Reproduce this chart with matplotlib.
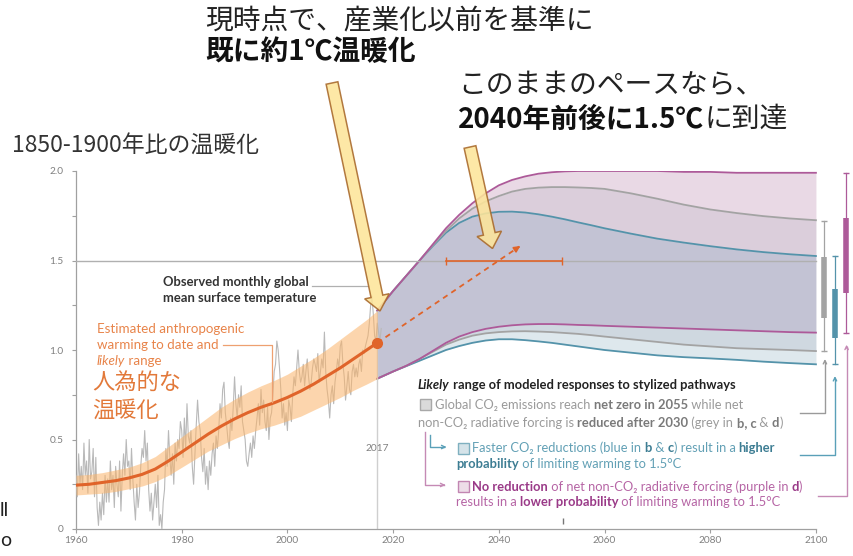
import numpy as np
import matplotlib
matplotlib.use('Agg')
import matplotlib.pyplot as plt
from matplotlib.patches import FancyArrow, Rectangle
from matplotlib.transforms import Affine2D

W, H = 854, 556

# observed monthly GMST (read off roughly, 4 values per year 1960-2017)
obs_vals = [
    0.30, 0.18, 0.42, 0.25, 0.35, 0.22, 0.48, 0.30, 0.38, 0.20, 0.50, 0.28,
    0.32, 0.45, 0.18, 0.40, 0.12, 0.02, 0.15, 0.05, 0.20, 0.08, 0.30, 0.15,
    0.28, 0.15, 0.38, 0.22, 0.30, 0.12, 0.35, 0.25, 0.18, 0.38, 0.10, 0.30,
    0.42, 0.30, 0.50, 0.35, 0.38, 0.22, 0.45, 0.28, 0.15, 0.05, 0.25, 0.12,
    0.20, 0.35, 0.45, 0.40, 0.55, 0.38, 0.48, 0.22, 0.10, 0.20, 0.05, 0.15,
    0.25, 0.12, 0.30, 0.02, 0.08, 0.00, 0.15, 0.22, 0.45, 0.35, 0.55, 0.40,
    0.30, 0.42, 0.25, 0.48, 0.38, 0.50, 0.45, 0.60, 0.55, 0.40, 0.62, 0.45,
    0.70, 0.52, 0.48, 0.55, 0.35, 0.25, 0.42, 0.58, 0.72, 0.60, 0.55, 0.40,
    0.32, 0.45, 0.25, 0.35, 0.22, 0.38, 0.30, 0.42, 0.48, 0.35, 0.52, 0.45,
    0.55, 0.70, 0.62, 0.78, 0.82, 0.65, 0.58, 0.50, 0.45, 0.62, 0.55, 0.68,
    0.85, 0.70, 0.62, 0.75, 0.68, 0.80, 0.60, 0.55, 0.50, 0.38, 0.35, 0.42,
    0.48, 0.40, 0.52, 0.45, 0.55, 0.62, 0.70, 0.58, 0.78, 0.65, 0.72, 0.60,
    0.55, 0.68, 0.50, 0.62, 0.65, 0.75, 0.88, 0.92, 1.05, 1.00, 0.90, 0.78,
    0.62, 0.70, 0.58, 0.65, 0.55, 0.72, 0.68, 0.60, 0.75, 0.85, 0.80, 0.90,
    1.00, 0.88, 0.82, 0.85, 0.92, 0.80, 0.88, 0.95, 0.85, 0.78, 0.82, 0.90,
    0.95, 0.92, 0.88, 0.98, 0.82, 0.88, 0.95, 0.90, 1.10, 0.88, 0.78, 0.72,
    0.62, 0.75, 0.80, 0.70, 0.82, 0.88, 0.95, 0.90, 1.02, 1.05, 0.92, 0.85,
    0.72, 0.80, 0.88, 0.78, 0.75, 0.88, 0.92, 0.85, 0.90, 0.85, 0.92, 0.95,
    0.88, 1.00, 0.98, 1.02, 1.05, 1.08, 1.15, 1.25, 1.30, 1.20, 1.08, 1.05,
    1.15, 1.10, 1.05, 1.12,
]
obs_years = 1960 + np.arange(len(obs_vals)) / 4

# anthropogenic warming estimate and likely range
ant_years = [1960, 1962.5, 1965, 1967.5, 1970, 1972.5, 1975, 1977.5, 1980, 1982.5,
             1985, 1987.5, 1990, 1992.5, 1995, 1997.5, 2000, 2002.5, 2005, 2007.5,
             2010, 2012.5, 2015, 2017]
ant_mid = [0.245, 0.25, 0.26, 0.27, 0.285, 0.305, 0.335, 0.38, 0.43, 0.48,
           0.53, 0.575, 0.615, 0.65, 0.68, 0.705, 0.735, 0.77, 0.81, 0.855,
           0.90, 0.95, 1.00, 1.04]
ant_lo = [0.19, 0.195, 0.20, 0.21, 0.225, 0.24, 0.265, 0.30, 0.345, 0.39,
          0.435, 0.47, 0.505, 0.535, 0.56, 0.58, 0.605, 0.63, 0.665, 0.70,
          0.735, 0.775, 0.81, 0.84]
ant_hi = [0.30, 0.305, 0.315, 0.33, 0.345, 0.37, 0.405, 0.46, 0.515, 0.57,
          0.625, 0.68, 0.725, 0.765, 0.80, 0.83, 0.865, 0.91, 0.955, 1.005,
          1.06, 1.115, 1.17, 1.22]

# modelled pathways 2017-2100
proj_years = [2017, 2020, 2022.5, 2025, 2027.5, 2030, 2032.5, 2035, 2037.5, 2040,
              2042.5, 2045, 2047.5, 2050, 2052.5, 2055, 2057.5, 2060, 2065, 2070,
              2075, 2080, 2085, 2090, 2095, 2100]
purple_hi = [1.22, 1.33, 1.415, 1.50, 1.59, 1.68, 1.755, 1.82, 1.875, 1.92,
             1.95, 1.97, 1.985, 1.993, 1.998, 2.0, 2.0, 2.0, 2.0, 2.0,
             1.995, 1.995, 1.99, 1.99, 1.99, 1.99]
grey_hi = [1.22, 1.33, 1.415, 1.50, 1.585, 1.665, 1.735, 1.79, 1.83, 1.86,
           1.885, 1.90, 1.907, 1.91, 1.91, 1.908, 1.905, 1.90, 1.875, 1.845,
           1.812, 1.785, 1.765, 1.748, 1.735, 1.725]
blue_hi = [1.22, 1.33, 1.415, 1.50, 1.58, 1.655, 1.71, 1.745, 1.763, 1.772,
           1.773, 1.768, 1.758, 1.745, 1.73, 1.713, 1.697, 1.68, 1.65, 1.622,
           1.60, 1.58, 1.562, 1.547, 1.535, 1.525]
purple_lo = [0.84, 0.88, 0.912, 0.95, 0.995, 1.04, 1.075, 1.10, 1.118, 1.13,
             1.138, 1.143, 1.145, 1.145, 1.143, 1.14, 1.138, 1.135, 1.13, 1.125,
             1.12, 1.115, 1.11, 1.105, 1.10, 1.097]
grey_lo = [0.84, 0.88, 0.912, 0.95, 0.99, 1.03, 1.058, 1.08, 1.093, 1.10,
           1.104, 1.105, 1.103, 1.10, 1.095, 1.09, 1.083, 1.075, 1.06, 1.045,
           1.03, 1.02, 1.01, 1.005, 1.00, 0.994]
blue_lo = [0.84, 0.88, 0.91, 0.94, 0.97, 1.00, 1.022, 1.04, 1.053, 1.06,
           1.06, 1.055, 1.048, 1.04, 1.03, 1.02, 1.01, 1.00, 0.985, 0.97,
           0.96, 0.953, 0.945, 0.935, 0.927, 0.92]

# 2100 ranges: whisker low/high, box low/high
bar_x = [2101.5, 2103.6, 2105.6]
bar_whisk = [(0.994, 1.72), (0.92, 1.525), (1.097, 1.99)]
bar_box = [(1.18, 1.52), (1.065, 1.34), (1.32, 1.735)]

reach_15 = (2030, 2052)
now_year, now_val = 2017, 1.04
pace_to = (2044.5, 1.59)

x_ticks = [1960, 1980, 2000, 2020, 2040, 2060, 2080, 2100]
y_ticks = [0, 0.5, 1.0, 1.5, 2.0]
y_labels = ['0', '0.5', '1.0', '1.5', '2.0']

EN = ['Lato', 'DejaVu Sans']
JP = ['Noto Sans CJK JP', 'DejaVu Sans']
PURPLE, GREY, BLUE = '#ad5a99', '#a3a3a3', '#5493aa'
ORANGE = '#e0642a'

fig = plt.figure(figsize=(W / 100, H / 100), dpi=100)
PX = Affine2D().scale(1, -1).translate(0, H)  # pixel coords, origin top-left
ax = fig.add_axes([76 / W, 27 / H, (W - 76) / W, 358 / H])
ax.set_xlim(1960, 2107.2)
ax.set_ylim(0, 2)

# projections
ax.fill_between(proj_years, grey_hi, purple_hi, color='#e9d9e5', lw=0, zorder=1)
ax.fill_between(proj_years, blue_hi, grey_hi, color='#dbcedb', lw=0, zorder=1)
ax.fill_between(proj_years, purple_lo, blue_hi, color='#c3c3d4', lw=0, zorder=1)
ax.fill_between(proj_years, grey_lo, purple_lo, color='#cfd8e0', lw=0, zorder=1)
ax.fill_between(proj_years, blue_lo, grey_lo, color='#dee8ed', lw=0, zorder=1)
for lo, hi, c in [(blue_lo, blue_hi, BLUE), (grey_lo, grey_hi, GREY), (purple_lo, purple_hi, PURPLE)]:
    ax.plot(proj_years, hi, color=c, lw=1.3, zorder=2)
    ax.plot(proj_years, lo, color=c, lw=1.3, zorder=2)

ax.plot([1960, 2100], [1.5, 1.5], color='#b0b0b0', lw=1, zorder=3)
ax.vlines(2017, 0, 1.22, color='#cfcfcf', lw=1, zorder=2)

# observed + anthropogenic
ax.plot(obs_years, obs_vals, color='#b9b9b9', lw=0.8, zorder=3)
ax.fill_between(ant_years, ant_lo, ant_hi, color='#fbb46a', alpha=0.55, lw=0, zorder=4)
ax.plot(ant_years, ant_mid, color=ORANGE, lw=2.2, zorder=5)
ax.plot([now_year], [now_val], 'o', color=ORANGE, ms=7, zorder=6)
ax.plot([now_year, pace_to[0] - 0.6], [now_val, pace_to[1] - 0.012], color=ORANGE,
        lw=1.3, ls=(0, (3, 2.5)), zorder=6)
ax.annotate('', xy=pace_to, xytext=(pace_to[0] - 1.5, pace_to[1] - 0.03),
            arrowprops=dict(arrowstyle='-|>', color=ORANGE, lw=1.2, mutation_scale=9),
            zorder=6)
ax.plot(reach_15, [1.5, 1.5], color=ORANGE, lw=1.2, marker='|', ms=6, zorder=6)

# 2100 bars
for x, (w0, w1), (b0, b1), c in zip(bar_x, bar_whisk, bar_box, [GREY, BLUE, PURPLE]):
    ax.plot([x, x], [w0, w1], color=c, lw=0.9, marker='_', ms=4, clip_on=False, zorder=6)
    ax.plot([x, x], [b0, b1], color=c, lw=4, solid_capstyle='butt', clip_on=False, zorder=7)

# connectors legend -> bars
conn = [((2097.0, 0.648), 2101.7, 0.965, '#9a9a9a'),
        ((2097.0, 0.413), 2103.6, 0.87, '#5aa0b8'),
        ((2100.4, 0.184), 2105.8, 1.045, '#c58ab5')]
for (x0, y0), xv, ytip, c in conn:
    ax.plot([x0, xv, xv], [y0, y0, ytip - 0.03], color=c, lw=1, clip_on=False, zorder=6)
    ax.annotate('', xy=(xv, ytip), xytext=(xv, ytip - 0.05), annotation_clip=False,
                arrowprops=dict(arrowstyle='->', color=c, lw=1, mutation_scale=6))
ax.plot([2026.0, 2026.0, 2029.6], [0.542, 0.246, 0.246], color='#c58ab5', lw=1, zorder=6)
ax.annotate('', xy=(2030.4, 0.246), xytext=(2029.0, 0.246),
            arrowprops=dict(arrowstyle='->', color='#c58ab5', lw=1, mutation_scale=6))
ax.plot([2027.0, 2027.0, 2029.6], [0.525, 0.458, 0.458], color='#5aa0b8', lw=1, zorder=6)
ax.annotate('', xy=(2030.6, 0.458), xytext=(2029.0, 0.458),
            arrowprops=dict(arrowstyle='->', color='#5aa0b8', lw=1, mutation_scale=6))
ax.vlines(2052.1, 0.03, 0.06, color='#777777', lw=1)

# axes styling
for s in ['top', 'right']:
    ax.spines[s].set_visible(False)
ax.spines['left'].set_bounds(0, 2)
ax.spines['bottom'].set_bounds(1960, 2100)
for s in ['left', 'bottom']:
    ax.spines[s].set_color('#a0a0a0')
    ax.spines[s].set_linewidth(0.9)
ax.set_xticks(x_ticks)
ax.set_xticklabels([str(t) for t in x_ticks])
ax.set_yticks(y_ticks)
ax.set_yticklabels(y_labels)
ax.set_yticks([0.25, 0.75, 1.25, 1.75], minor=True)
ax.tick_params(which='both', length=3, width=0.8, color='#a0a0a0', labelsize=7.3,
               labelcolor='#808080', pad=2)
ax.tick_params(axis='y', which='major', pad=6)
for lab in ax.get_xticklabels() + ax.get_yticklabels():
    lab.set_family(EN)

ax.text(2017, 0.45, '2017', ha='center', va='center', fontsize=7.3, color='#808080',
        family=EN, zorder=8)


def rich(x, y, parts, size, family=EN):
    prev = None
    for s, color, weight, style in parts:
        kw = dict(fontsize=size, color=color, fontweight=weight, fontstyle=style,
                  family=family, zorder=9)
        if prev is None:
            prev = ax.text(x, y, s, transform=PX, ha='left', va='center', **kw)
        else:
            prev = ax.annotate(s, xy=(1, 0), xycoords=prev, ha='left', va='bottom', **kw)
    return prev


# labels in chart
rich(163, 282, [('Observed monthly global', '#333333', 'bold', 'normal')], 9.4)
rich(163, 298, [('mean surface temperature', '#333333', 'bold', 'normal')], 9.4)
ax.plot([312, 368], [286, 286], color='#b0b0b0', lw=0.9, transform=PX, zorder=8)
OR2 = '#e8844a'
rich(97, 329, [('Estimated anthropogenic', OR2, 'normal', 'normal')], 9.6)
rich(97, 345, [('warming to date and', OR2, 'normal', 'normal')], 9.6)
rich(97, 361, [('likely', OR2, 'normal', 'italic'), (' range', OR2, 'normal', 'normal')], 9.6)
ax.plot([223, 272, 272], [345, 345, 402], color='#eea070', lw=0.9, transform=PX, zorder=8)
ax.text(92, 383, '人為的な', transform=PX, ha='left', va='center', fontsize=16,
        color='#e2793a', family=JP, zorder=9)
ax.text(92, 410, '温暖化', transform=PX, ha='left', va='center', fontsize=16,
        color='#e2793a', family=JP, zorder=9)

# legend block
K, G, GB = '#222222', '#9a9a9a', '#7a7a7a'
B, BB = '#62a0b5', '#3d7d93'
P, PB = '#b665a5', '#9a3a88'
LS = 9.3
rich(418, 385, [('Likely', K, 'bold', 'italic'),
                (' range of modeled responses to stylized pathways', K, 'bold', 'normal')], LS)
rich(435, 405, [('Global CO₂ emissions reach ', G, 'normal', 'normal'),
                ('net zero in 2055', GB, 'bold', 'normal'),
                (' while net', G, 'normal', 'normal')], LS)
rich(418, 423, [('non-CO₂ radiative forcing is ', G, 'normal', 'normal'),
                ('reduced after 2030', GB, 'bold', 'normal'),
                (' (grey in ', G, 'normal', 'normal'), ('b, c', GB, 'bold', 'normal'),
                (' & ', G, 'normal', 'normal'), ('d', GB, 'bold', 'normal'),
                (')', G, 'normal', 'normal')], LS)
rich(472, 448, [('Faster CO₂ reductions (blue in ', B, 'normal', 'normal'),
                ('b', BB, 'bold', 'normal'), (' & ', B, 'normal', 'normal'),
                ('c', BB, 'bold', 'normal'), (') result in a ', B, 'normal', 'normal'),
                ('higher', BB, 'bold', 'normal')], LS)
rich(456, 464, [('probability', BB, 'bold', 'normal'),
                (' of limiting warming to 1.5°C', B, 'normal', 'normal')], LS)
rich(472, 487, [('No reduction', PB, 'bold', 'normal'),
                (' of net non-CO₂ radiative forcing (purple in ', P, 'normal', 'normal'),
                ('d', PB, 'bold', 'normal'), (')', P, 'normal', 'normal')], LS)
rich(456, 502, [('results in a ', P, 'normal', 'normal'),
                ('lower probability', PB, 'bold', 'normal'),
                (' of limiting warming to 1.5°C', P, 'normal', 'normal')], LS)
for (x, y), fc, ec in [((420, 399), '#dadada', '#a8a8a8'), ((458, 443), '#d5e3e9', '#7fb0c0'),
                       ((458, 481), '#eddde8', '#c286b2')]:
    ax.add_patch(Rectangle((x, y + 11), 11, -11, transform=PX, facecolor=fc, edgecolor=ec,
                           lw=1, zorder=9, clip_on=False))

# Japanese headlines
ax.text(12, 145, '1850-1900年比の温暖化', transform=PX, ha='left', va='center',
        fontsize=16.5, color='#333333', family=JP)
ax.text(205, 20, '現時点で、産業化以前を基準に', transform=PX, ha='left', va='center',
        fontsize=20, color='#222222', family=JP)
ax.text(205, 52, '既に約1℃温暖化', transform=PX, ha='left', va='center',
        fontsize=20, color='#111111', fontweight='bold', family=JP)
ax.text(458, 85, 'このままのペースなら、', transform=PX, ha='left', va='center',
        fontsize=20, color='#222222', family=JP)
rich(458, 120, [('2040年前後に1.5℃', '#111111', 'bold', 'normal'),
                ('に到達', '#222222', 'normal', 'normal')], 20, family=JP)
ax.text(0, 511, 'll', transform=PX, ha='left', va='center', fontsize=14, color='#222222',
        family=EN)
ax.text(0, 540, 'o', transform=PX, ha='left', va='center', fontsize=14, color='#222222',
        family=EN)

# big yellow arrows
for (x0, y0), (x1, y1) in [((332, 83), (380, 311)), ((470, 147), (492.5, 248.5))]:
    arr = FancyArrow(x0, y0, x1 - x0, y1 - y0, width=12, head_width=25, head_length=15,
                     length_includes_head=True, transform=PX, facecolor='#fde59a',
                     edgecolor='#a8682a', lw=1.1, alpha=0.88, zorder=20)
    fig.add_artist(arr)

fig.savefig('out.png', dpi=100)
